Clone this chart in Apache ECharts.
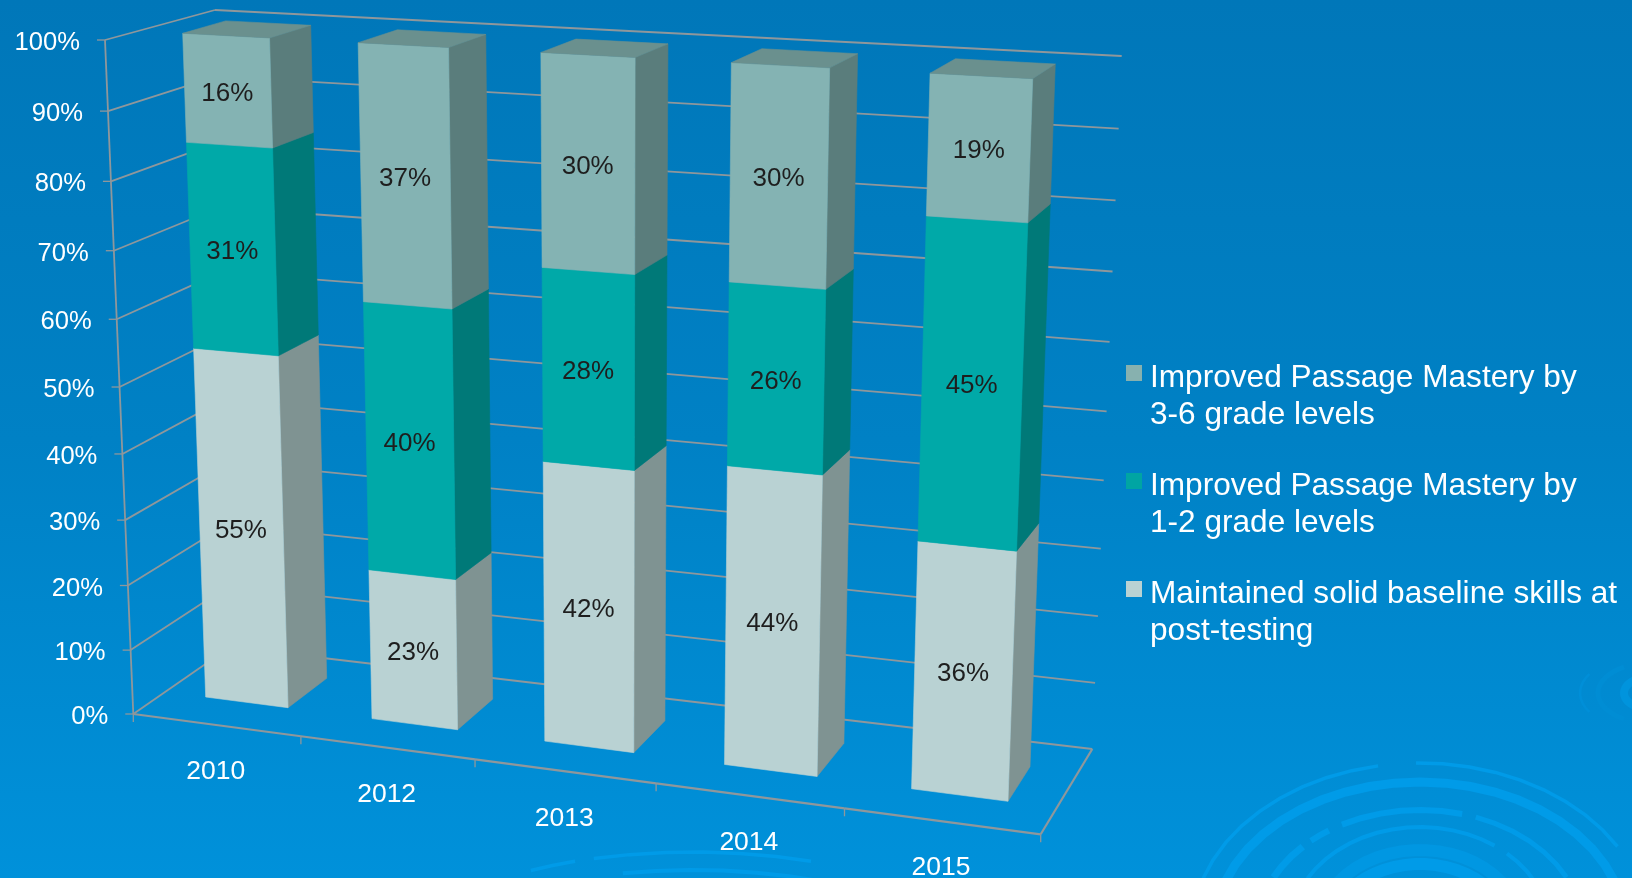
<!DOCTYPE html>
<html>
<head>
<meta charset="utf-8">
<style>html,body{margin:0;padding:0;background:#0085c9}#chart{width:1632px;height:878px}</style>
<script src="https://cdn.jsdelivr.net/npm/echarts@6/dist/echarts.min.js"></script>
</head>
<body>
<div id="chart"></div>
<script>
// Chart data
const years = ['2010', '2012', '2013', '2014', '2015'];
const baselineSkills = [55, 23, 42, 44, 36];
const improvedOneTwo = [31, 40, 28, 26, 45];
const improvedThreeSix = [16, 37, 30, 30, 19];
const yTicks = [0, 10, 20, 30, 40, 50, 60, 70, 80, 90, 100];
const yTickLabels = ['0%', '10%', '20%', '30%', '40%', '50%', '60%', '70%', '80%', '90%', '100%'];
const legendNames = [
  'Improved Passage Mastery by\n3-6 grade levels',
  'Improved Passage Mastery by\n1-2 grade levels',
  'Maintained solid baseline skills at\npost-testing'
];

const FONT = '"Liberation Sans", Arial, sans-serif';
const GRID_COLOR = '#8f979b';

// Homography from the unit square onto a quad [p00, p10, p11, p01]
function quadMap(p) {
  const [x0, y0] = p[0], [x1, y1] = p[1], [x2, y2] = p[2], [x3, y3] = p[3];
  const dx1 = x1 - x2, dx2 = x3 - x2, sx = x0 - x1 + x2 - x3;
  const dy1 = y1 - y2, dy2 = y3 - y2, sy = y0 - y1 + y2 - y3;
  const den = dx1 * dy2 - dx2 * dy1;
  const g = (sx * dy2 - dx2 * sy) / den, h = (dx1 * sy - sx * dy1) / den;
  const a = x1 - x0 + g * x1, b = x3 - x0 + h * x3;
  const d = y1 - y0 + g * y1, e = y3 - y0 + h * y3;
  return (u, v) => {
    const w = g * u + h * v + 1;
    return [(a * u + b * v + x0) / w, (d * u + e * v + y0) / w];
  };
}

// Perspective planes of the 3D scene; X runs 0..5 (one unit per category), Y runs 0..1
const planeOf = (xMin, xMax, quad) => {
  const m = quadMap(quad);
  return (X, Y) => m((X - xMin) / (xMax - xMin), Y);
};
const chartFront = planeOf(0, 5, [[133.3, 714], [1040.7, 834.3], [1071, 94], [105, 40]]);
const chartBack = planeOf(0, 5, [[230, 647], [1092.3, 749], [1121.7, 56], [215, 10]]);
const barFront = planeOf(0.25, 4.75, [[205.7, 697], [1008, 801.3], [1032.7, 78.7], [182.7, 33.3]]);
const barBack = planeOf(0.75, 4.75, [[326.7, 678.3], [1030, 766.7], [1055.3, 64], [310.7, 25.3]]);

// Grid pixels from the axis scales converted to scene units
function toScene(api, params, pt) {
  const cs = params.coordSys;
  return [(pt[0] - cs.x) / cs.width * 5, (cs.y + cs.height - pt[1]) / cs.height];
}
const segment = (a, b, stroke, lineWidth) => ({
  type: 'line',
  shape: { x1: a[0], y1: a[1], x2: b[0], y2: b[1] },
  style: { stroke, lineWidth }
});
const face = (points, fill) => ({
  type: 'polygon',
  shape: { points },
  style: { fill, stroke: fill, lineWidth: 0.6 }
});

// Value-axis gridlines on both walls with their tick labels
function renderValueLevel(params, api) {
  const Y = toScene(api, params, api.coord([0, api.value(1)]))[1];
  const front = chartFront(0, Y), back = chartBack(0, Y), right = chartBack(5, Y);
  return {
    type: 'group',
    children: [
      segment(front, back, GRID_COLOR, 1.8),
      segment(back, right, GRID_COLOR, 1.8),
      segment([front[0] - 8, front[1]], front, GRID_COLOR, 1.3),
      {
        type: 'text',
        style: {
          x: front[0] - 25, y: front[1] + 3,
          text: yTickLabels[params.dataIndex],
          fill: '#ffffff', font: '25.6px ' + FONT,
          align: 'right', verticalAlign: 'middle'
        }
      }
    ]
  };
}

// Floor edges, category ticks and year labels
function renderCategory(params, api) {
  const i = api.value(0);
  const children = [];
  const center = toScene(api, params, api.coord([i, 0]));
  const X0 = center[0] - 0.5, X1 = center[0] + 0.5;
  const tick = chartFront(X1, 0);
  children.push(segment(chartFront(X0, 0), tick, GRID_COLOR, 2.2));
  children.push(segment(tick, [tick[0], tick[1] + 8], GRID_COLOR, 1.3));
  if (i === 0) {
    const origin = chartFront(0, 0);
    children.push(segment(origin, [origin[0], origin[1] + 8], GRID_COLOR, 1.3));
    children.push(segment(origin, chartFront(0, 1), GRID_COLOR, 1.8));
  }
  if (i === years.length - 1) {
    children.push(segment(chartFront(5, 0), chartBack(5, 0), GRID_COLOR, 2.2));
  }
  const mid = chartFront(center[0], 0);
  children.push({
    type: 'text',
    style: {
      x: mid[0] - 0.5, y: mid[1] + 47,
      text: years[i], fill: '#ffffff', font: '26.5px ' + FONT,
      align: 'center', verticalAlign: 'middle'
    }
  });
  return { type: 'group', children };
}

// One stacked segment of a 3D column: front, right side and, on the last segment, the lid
function segmentRenderer(colors) {
  return function (params, api) {
    const i = api.value(0), lo = api.value(1), hi = api.value(2);
    const a = toScene(api, params, api.coord([i, lo]));
    const b = toScene(api, params, api.coord([i, hi]));
    const half = api.size([1, 0])[0] / params.coordSys.width * 5 / 4;
    const xl = a[0] - half, xr = a[0] + half, y0 = a[1], y1 = b[1];
    const fl0 = barFront(xl, y0), fr0 = barFront(xr, y0), fr1 = barFront(xr, y1), fl1 = barFront(xl, y1);
    const br0 = barBack(xr, y0), br1 = barBack(xr, y1), bl1 = barBack(xl, y1);
    const children = [
      face([fr0, br0, br1, fr1], colors.side),
      face([fl0, fr0, fr1, fl1], colors.front)
    ];
    if (api.value(4)) {
      children.push(face([fl1, fr1, br1, bl1], colors.lid));
    }
    children.push({
      type: 'text',
      style: {
        x: (fl0[0] + fr0[0] + fr1[0] + fl1[0]) / 4 - 0.5,
        y: (fl0[1] + fr0[1] + fr1[1] + fl1[1]) / 4 + 3.5,
        text: api.value(3) + '%',
        fill: '#1e1e1e', font: '26px ' + FONT,
        align: 'center', verticalAlign: 'middle'
      }
    });
    return { type: 'group', children };
  };
}

// 100% stack: each segment spans its share of the year's total
const stackOrder = [baselineSkills, improvedOneTwo, improvedThreeSix];
function stackRows(level) {
  return years.map((_, i) => {
    const total = stackOrder.reduce((s, arr) => s + arr[i], 0);
    let below = 0;
    for (let k = 0; k < level; k++) below += stackOrder[k][i];
    const value = stackOrder[level][i];
    return [i, below / total * 100, (below + value) / total * 100, value, level === stackOrder.length - 1 ? 1 : 0];
  });
}

const palette = [
  { front: '#b9d2d3', side: '#7f9392', lid: '#9fb8b8' },
  { front: '#00a9a8', side: '#007978', lid: '#008e8c' },
  { front: '#84b3b3', side: '#5a7d7c', lid: '#6a908e' }
];
const legendColors = ['#b9d2d3', '#00a5a3', '#87b1af'];

function columnSeries(level, name) {
  return {
    type: 'custom',
    name,
    coordinateSystem: 'cartesian2d',
    clip: false,
    silent: true,
    z: 5,
    itemStyle: { color: legendColors[level] },
    renderItem: segmentRenderer(palette[level]),
    encode: { x: 0, y: [1, 2] },
    data: stackRows(level)
  };
}

// Background ripple rings, as faceted elliptical arcs
function ripple(cx, cy, rx, ry, from, to, width, color) {
  const points = [];
  const steps = Math.max(2, Math.round((to - from) / 7));
  for (let s = 0; s <= steps; s++) {
    const t = (from + (to - from) * s / steps) * Math.PI / 180;
    points.push([cx + rx * Math.sin(t), cy - ry * Math.cos(t)]);
  }
  return {
    type: 'polyline',
    z: -10,
    silent: true,
    shape: { points },
    style: { stroke: color, lineWidth: width, fill: 'none' }
  };
}
const RING = '#009be8';
const ripples = [
  ripple(1420, 930, 228, 167, -72, -10.6, 3.5, RING),
  ripple(1420, 930, 228, 167, -1, 60, 3.5, RING),
  ripple(1420, 930, 206, 148, -78, 78, 9, RING),
  ripple(1420, 930, 163, 120, -28.6, 15, 6, RING),
  ripple(1420, 930, 163, 120, 20, 64, 5, RING),
  ripple(1420, 930, 163, 120, -42, -34, 6, RING),
  ripple(1420, 930, 163, 120, -64, -46, 7, RING),
  ripple(1420, 930, 130, 103, -60, 35, 4, RING),
  ripple(1420, 930, 130, 103, 42, 62, 4, RING),
  ripple(1420, 930, 102, 80, -75, 75, 12, '#0097e2'),
  ripple(1420, 930, 88, 66, -80, 80, 12, RING),
  ripple(1650, 693, 70, 38, -120, -60, 2.5, '#008fd8'),
  ripple(1650, 693, 52, 30, -150, -30, 5, '#008dd4'),
  ripple(1650, 693, 26, 16, -170, -10, 8, '#0094dd'),
  ripple(693, 960, 290, 108, -20, 24, 3.5, RING),
  ripple(693, 960, 290, 108, -34, -24, 3.5, RING),
  ripple(693, 980, 290, 110, -14, 26, 4, RING)
];

const chart = echarts.init(document.getElementById('chart'));
chart.setOption({
  animation: false,
  backgroundColor: {
    type: 'linear', x: 0, y: 0, x2: 0, y2: 1,
    colorStops: [
      { offset: 0, color: '#0077b9' },
      { offset: 0.5, color: '#0081c5' },
      { offset: 1, color: '#0091da' }
    ]
  },
  grid: { left: 0, top: 0, width: 1000, height: 800, show: false },
  xAxis: { type: 'category', data: years, show: false },
  yAxis: { type: 'value', min: 0, max: 100, interval: 10, show: false },
  legend: {
    orient: 'vertical',
    left: 1121,
    top: 354.5,
    itemWidth: 16,
    itemHeight: 74,
    itemGap: 34,
    selectedMode: false,
    icon: 'path://M0 0h0M0 5.5h16v16h-16zM16 74h0',
    textStyle: { color: '#ffffff', fontSize: 31.6, lineHeight: 37, fontFamily: FONT, padding: [0, 0, 0, 3] },
    data: legendNames
  },
  graphic: { elements: ripples },
  series: [
    {
      type: 'custom',
      coordinateSystem: 'cartesian2d',
      clip: false,
      silent: true,
      z: 2,
      renderItem: renderValueLevel,
      encode: { x: 0, y: 1 },
      data: yTicks.map(v => [0, v])
    },
    {
      type: 'custom',
      coordinateSystem: 'cartesian2d',
      clip: false,
      silent: true,
      z: 3,
      renderItem: renderCategory,
      encode: { x: 0, y: 1 },
      data: years.map((_, i) => [i, 0])
    },
    columnSeries(0, legendNames[2]),
    columnSeries(1, legendNames[1]),
    columnSeries(2, legendNames[0])
  ]
});
</script>
</body>
</html>
